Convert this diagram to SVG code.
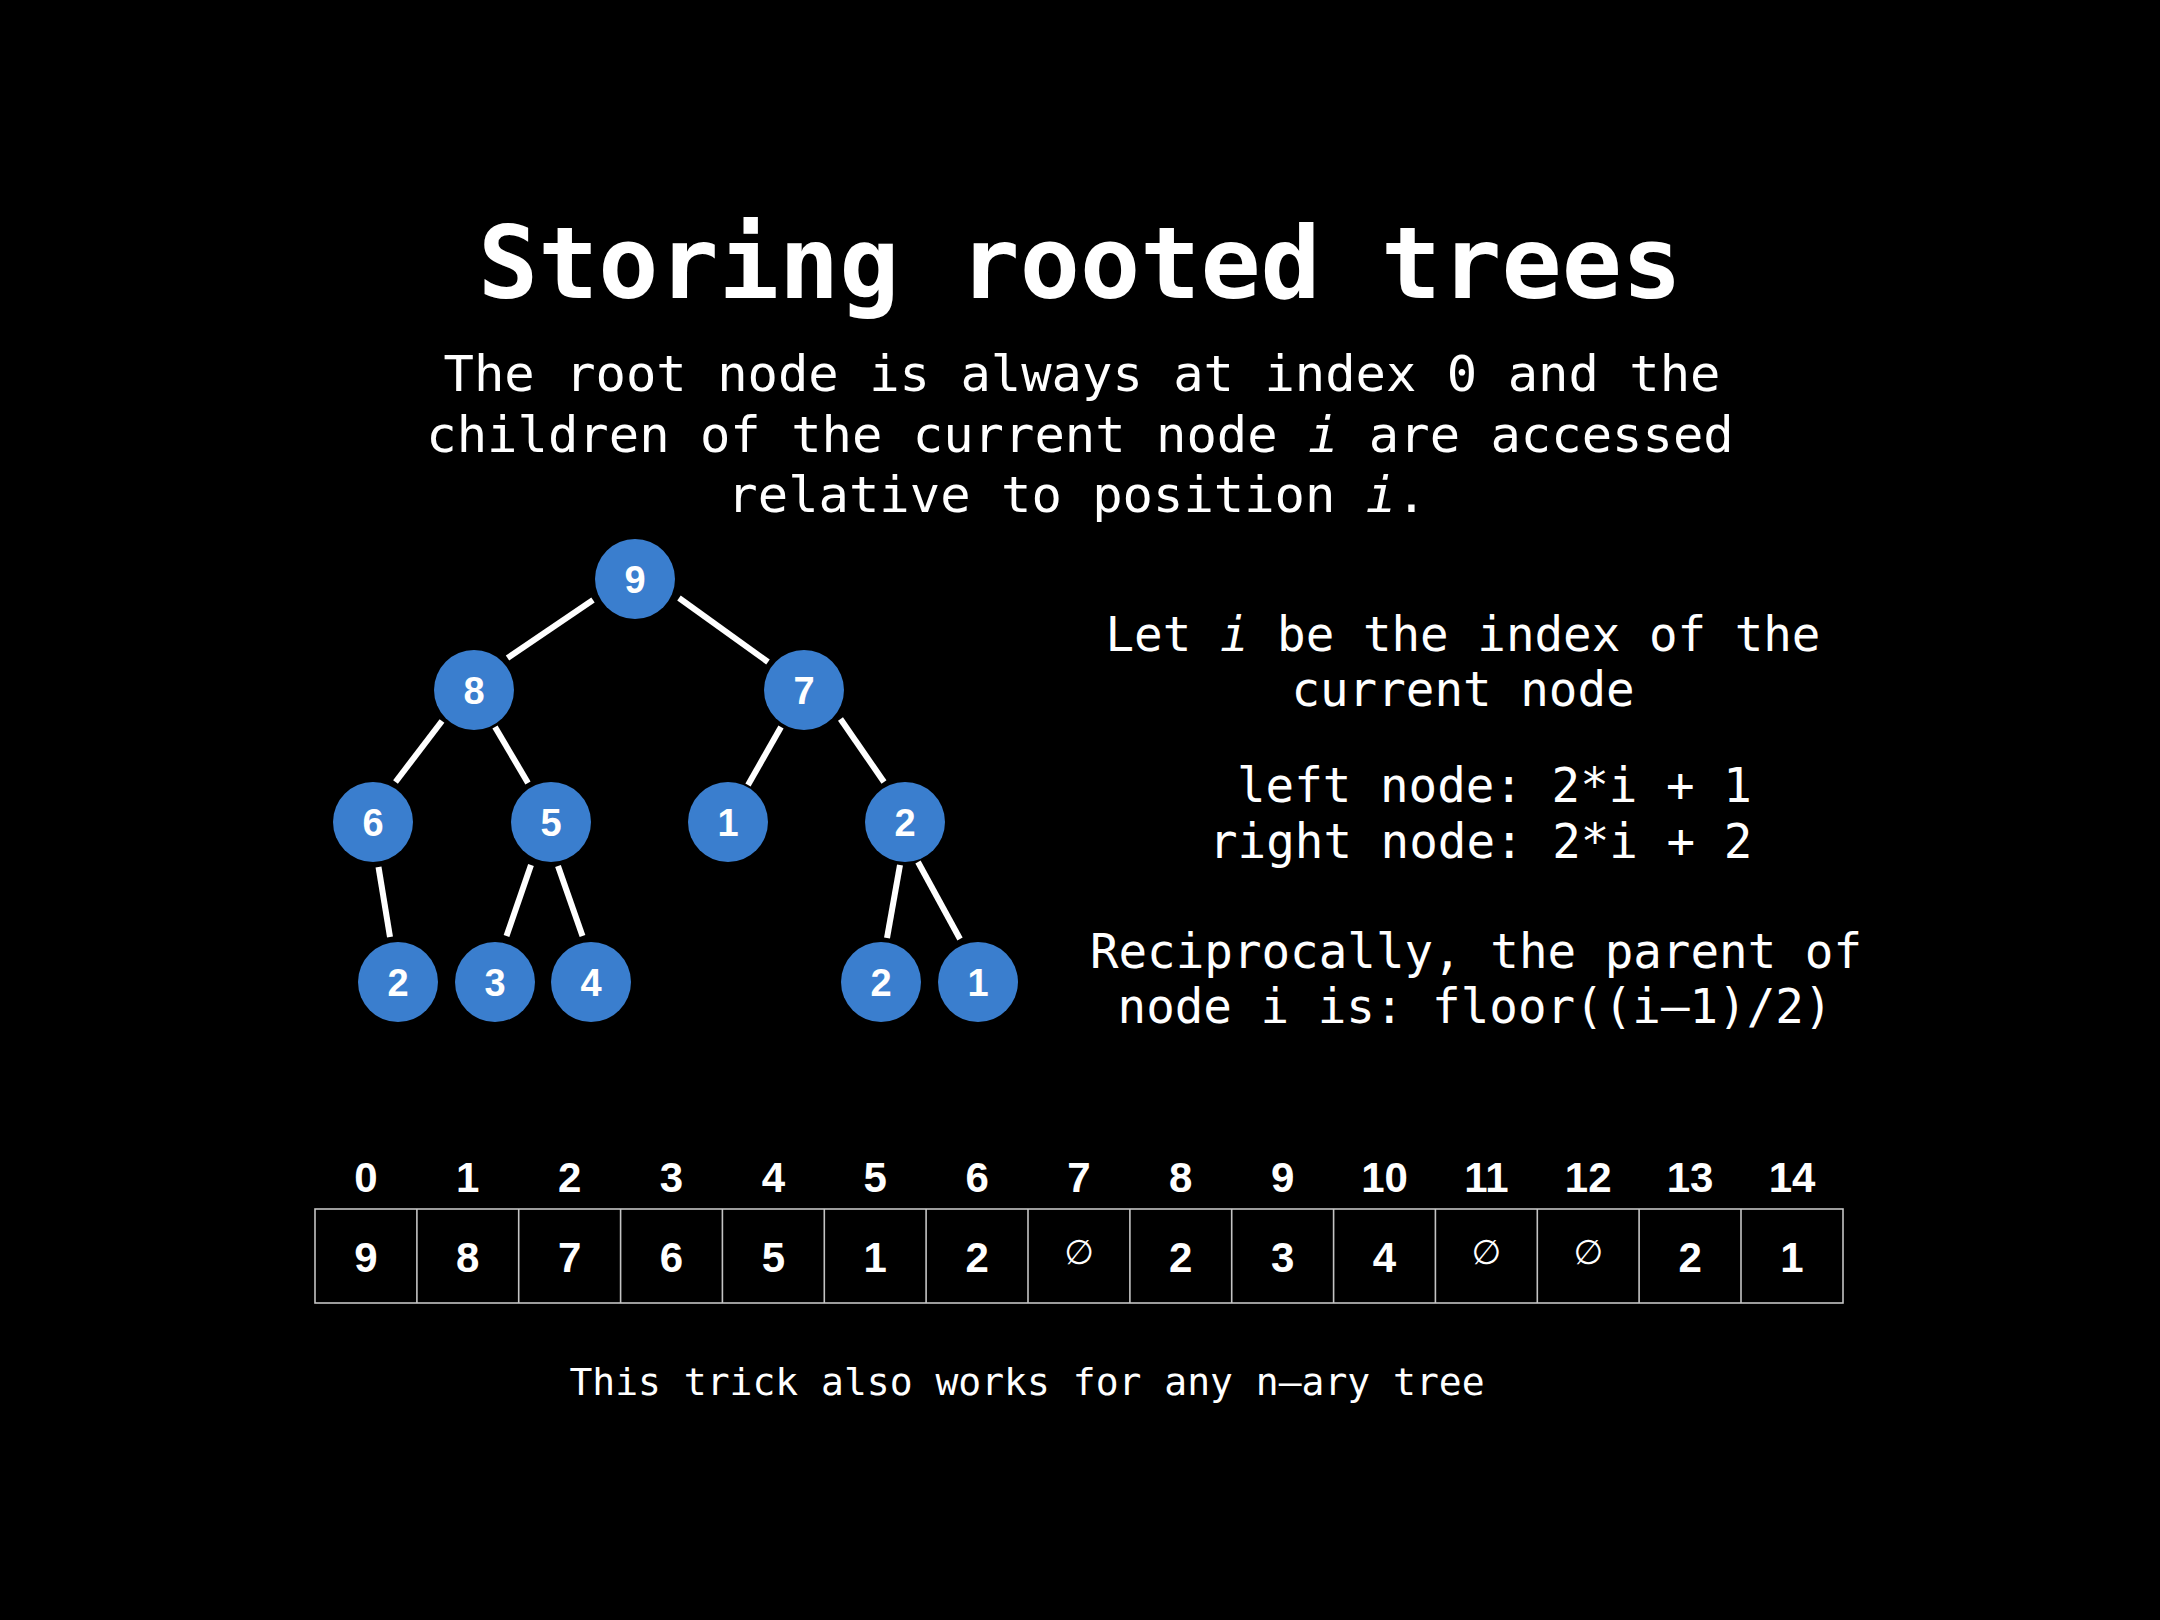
<svg xmlns="http://www.w3.org/2000/svg" width="2160" height="1620" viewBox="0 0 2160 1620">
<style>
.mono{font-family:"DejaVu Sans Mono","Liberation Mono",monospace;fill:#fff}
.title{font-size:100px;font-weight:bold;text-anchor:middle}
.sub{font-size:50.5px;text-anchor:middle}
.side{font-size:47.5px}
.foot{font-size:38px;text-anchor:middle}
.node circle{fill:#3A7ECE}
.node text,.num{font-family:"Liberation Sans",Arial,sans-serif;font-weight:bold;fill:#fff;text-anchor:middle}
.node text{font-size:38px}
.num{font-size:42px}
.empty{font-family:"DejaVu Sans",sans-serif;font-size:34px;fill:#fff;text-anchor:middle}
.edges line{stroke:#fff;stroke-width:6;stroke-linecap:butt}
.grid{fill:none;stroke:#c4c4c4;stroke-width:1.6}
</style>
<rect width="2160" height="1620" fill="#000"/>
<g id="title">
<text class="mono title" x="1080" y="298">Storing rooted trees</text>
</g>
<g id="subtitle" class="mono sub">
<text x="1082" y="391">The root node is always at index 0 and the</text>
<text x="1080" y="452">children of the current node <tspan font-style="italic">i</tspan> are accessed</text>
<text x="1077" y="512">relative to position <tspan font-style="italic">i</tspan>.</text>
</g>
<g id="edges" class="edges">
<line x1="593" y1="600" x2="507.5" y2="658"/>
<line x1="679" y1="598" x2="768" y2="662"/>
<line x1="442" y1="721" x2="395.5" y2="782"/>
<line x1="495" y1="727" x2="528" y2="783"/>
<line x1="781" y1="727" x2="748" y2="785"/>
<line x1="840.5" y1="719" x2="884" y2="782"/>
<line x1="378.5" y1="867" x2="390" y2="937"/>
<line x1="531" y1="865" x2="506.5" y2="936"/>
<line x1="558" y1="866" x2="582.5" y2="936"/>
<line x1="900" y1="865" x2="887" y2="938"/>
<line x1="918" y1="862" x2="960" y2="939"/>
</g>
<g id="n0" class="node"><circle cx="635" cy="579" r="40"/><text x="635" y="592.5">9</text></g>
<g id="n1" class="node"><circle cx="474" cy="690" r="40"/><text x="474" y="703.5">8</text></g>
<g id="n2" class="node"><circle cx="804" cy="690" r="40"/><text x="804" y="703.5">7</text></g>
<g id="n3" class="node"><circle cx="373" cy="822" r="40"/><text x="373" y="835.5">6</text></g>
<g id="n4" class="node"><circle cx="551" cy="822" r="40"/><text x="551" y="835.5">5</text></g>
<g id="n5" class="node"><circle cx="728" cy="822" r="40"/><text x="728" y="835.5">1</text></g>
<g id="n6" class="node"><circle cx="905" cy="822" r="40"/><text x="905" y="835.5">2</text></g>
<g id="n7" class="node"><circle cx="398" cy="982" r="40"/><text x="398" y="995.5">2</text></g>
<g id="n8" class="node"><circle cx="495" cy="982" r="40"/><text x="495" y="995.5">3</text></g>
<g id="n9" class="node"><circle cx="591" cy="982" r="40"/><text x="591" y="995.5">4</text></g>
<g id="n10" class="node"><circle cx="881" cy="982" r="40"/><text x="881" y="995.5">2</text></g>
<g id="n11" class="node"><circle cx="978" cy="982" r="40"/><text x="978" y="995.5">1</text></g>
<g id="side-text" class="mono side">
<text x="1463" y="651" text-anchor="middle">Let <tspan font-style="italic">i</tspan> be the index of the</text>
<text x="1463" y="706" text-anchor="middle">current node</text>
<text x="1237" y="802">left node: 2*i + 1</text>
<text x="1209" y="858">right node: 2*i + 2</text>
<text x="1476" y="968" text-anchor="middle">Reciprocally, the parent of</text>
<text x="1475" y="1023" text-anchor="middle">node i is: floor((i–1)/2)</text>
</g>
<g id="array">
<rect class="grid" x="315" y="1209" width="1528" height="94"/>
<path class="grid" d="M416.9 1209V1303M518.7 1209V1303M620.6 1209V1303M722.4 1209V1303M824.3 1209V1303M926.1 1209V1303M1028 1209V1303M1129.9 1209V1303M1231.7 1209V1303M1333.6 1209V1303M1435.4 1209V1303M1537.3 1209V1303M1639.1 1209V1303M1741 1209V1303"/>
<g id="indices">
<text class="num" x="366" y="1192">0</text>
<text class="num" x="467.8" y="1192">1</text>
<text class="num" x="569.7" y="1192">2</text>
<text class="num" x="671.5" y="1192">3</text>
<text class="num" x="773.4" y="1192">4</text>
<text class="num" x="875.2" y="1192">5</text>
<text class="num" x="977.1" y="1192">6</text>
<text class="num" x="1079" y="1192">7</text>
<text class="num" x="1180.8" y="1192">8</text>
<text class="num" x="1282.7" y="1192">9</text>
<text class="num" x="1384.5" y="1192">10</text>
<text class="num" x="1486.4" y="1192">11</text>
<text class="num" x="1588.2" y="1192">12</text>
<text class="num" x="1690.1" y="1192">13</text>
<text class="num" x="1792" y="1192">14</text>
</g>
<g id="values">
<text class="num" x="366" y="1272">9</text>
<text class="num" x="467.8" y="1272">8</text>
<text class="num" x="569.7" y="1272">7</text>
<text class="num" x="671.5" y="1272">6</text>
<text class="num" x="773.4" y="1272">5</text>
<text class="num" x="875.2" y="1272">1</text>
<text class="num" x="977.1" y="1272">2</text>
<text class="empty" x="1079" y="1264">∅</text>
<text class="num" x="1180.8" y="1272">2</text>
<text class="num" x="1282.7" y="1272">3</text>
<text class="num" x="1384.5" y="1272">4</text>
<text class="empty" x="1486.4" y="1264">∅</text>
<text class="empty" x="1588.2" y="1264">∅</text>
<text class="num" x="1690.1" y="1272">2</text>
<text class="num" x="1792" y="1272">1</text>
</g>
</g>
<g id="footer">
<text class="mono foot" x="1027" y="1395">This trick also works for any n–ary tree</text>
</g>
</svg>
